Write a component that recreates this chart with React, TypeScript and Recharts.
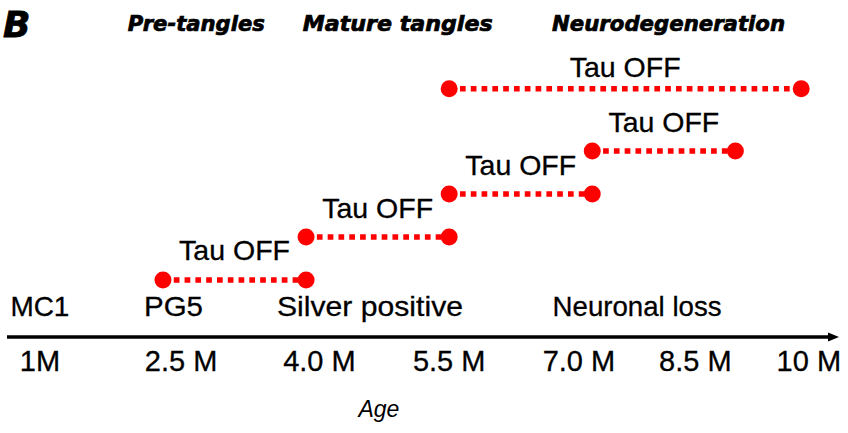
import React from 'react';
import { ComposedChart, Line, XAxis, YAxis, ReferenceDot } from 'recharts';

// ages on the axis and where each age label sits (axis units)
const ageLabels = ['1M', '2.5 M', '4.0 M', '5.5 M', '7.0 M', '8.5 M', '10 M'];
const ageTickAt = [1.21, 2.69, 4.14, 5.5, 6.86, 8.08, 9.27];

// Tau OFF windows: start / end age and the row they are drawn on
// (the 10 M end point is drawn squeezed against the arrow, at 9.19 on the axis)
const tauStart = [2.5, 4.0, 5.5, 7.0, 5.5];
const tauEnd = [4.0, 5.5, 7.0, 8.5, 9.19];
const tauRow = [1, 2, 3, 4, 5.45];
const tauText = ['Tau OFF', 'Tau OFF', 'Tau OFF', 'Tau OFF', 'Tau OFF'];

// markers written just above the axis
const markers = ['MC1', 'PG5', 'Silver positive', 'Neuronal loss'];
const markerAt = [1.21, 2.61, 4.67, 7.47];

// disease phases across the top
const phases = ['Pre-tangles', 'Mature tangles', 'Neurodegeneration'];
const phaseAt = [2.85, 4.96, 7.8];

const FONT = '"Liberation Sans", Arial, sans-serif';
const HEAD_FONT = '"DejaVu Sans", sans-serif';
const RED = '#ff0000';

const X_DOMAIN: [number, number] = [0.865, 9.513];
const Y_DOMAIN: [number, number] = [-0.326, 7.512];
const MARKER_Y = 0.163;
const PHASE_Y = 6.79;
const AGE_Y = -2.186;
const PANEL_Y = 6.65;

const phaseWidth = [137, 190, 233];
const markerWidth = [59, 59, 186, 169];
const tauGap = [20, 19, 19, 19, 12];

const segments = tauStart.map((s, i) => [
  { x: s, y: tauRow[i] },
  { x: tauEnd[i], y: tauRow[i] },
]);

const App = () => {
  return (
    <div style={{ position: 'absolute', left: 0, top: 0, background: '#fff' }}>
      <ComposedChart width={848} height={433} margin={{ top: 0, right: 16, bottom: 66, left: 7 }}>
        <XAxis
          dataKey="x"
          type="number"
          domain={X_DOMAIN}
          allowDataOverflow
          ticks={ageTickAt}
          interval={0}
          tickFormatter={(v: number) => ageLabels[ageTickAt.indexOf(v)]}
          axisLine={{ stroke: '#000', strokeWidth: 3.5 }}
          tickLine={false}
          tickSize={0}
          tickMargin={13}
          tick={{ fontSize: 29, fill: '#000', fontFamily: FONT, stroke: '#000', strokeWidth: 0.3 }}
          height={30}
        />
        <YAxis type="number" domain={Y_DOMAIN} allowDataOverflow hide />

        {segments.map((seg, i) => (
          <Line
            key={'seg' + i}
            data={seg}
            dataKey="y"
            stroke={RED}
            strokeWidth={5.5}
            strokeDasharray="5.7 5.1"
            dot={{ r: 8.5, fill: RED, stroke: 'none', strokeWidth: 0 }}
            activeDot={false}
            isAnimationActive={false}
          />
        ))}

        {tauStart.map((s, i) => (
          <ReferenceDot
            key={'tau' + i}
            x={(s + tauEnd[i]) / 2}
            y={tauRow[i]}
            ifOverflow="visible"
            shape={(p: any) => (
              <text
                x={p.cx}
                y={p.cy - tauGap[i]}
                textAnchor="middle"
                fontFamily={FONT}
                fontSize={28.5}
                fill="#000"
                stroke="#000"
                strokeWidth={0.3}
              >
                {tauText[i]}
              </text>
            )}
          />
        ))}

        {markers.map((m, i) => (
          <ReferenceDot
            key={'mk' + i}
            x={markerAt[i]}
            y={MARKER_Y}
            ifOverflow="visible"
            shape={(p: any) => (
              <text
                x={p.cx}
                y={p.cy}
                textAnchor="middle"
                fontFamily={FONT}
                fontSize={28.5}
                textLength={markerWidth[i]}
                lengthAdjust="spacingAndGlyphs"
                fill="#000"
                stroke="#000"
                strokeWidth={0.3}
              >
                {m}
              </text>
            )}
          />
        ))}

        {phases.map((ph, i) => (
          <ReferenceDot
            key={'ph' + i}
            x={phaseAt[i]}
            y={PHASE_Y}
            ifOverflow="visible"
            shape={(p: any) => (
              <text
                x={p.cx}
                y={p.cy}
                textAnchor="middle"
                fontFamily={HEAD_FONT}
                fontWeight="bold"
                fontStyle="italic"
                fontSize={21}
                textLength={phaseWidth[i]}
                lengthAdjust="spacingAndGlyphs"
                fill="#000"
                stroke="#000"
                strokeWidth={0.7}
              >
                {ph}
              </text>
            )}
          />
        ))}

        <ReferenceDot
          x={0.823}
          y={PANEL_Y}
          ifOverflow="visible"
          shape={(p: any) => (
            <text
              x={p.cx}
              y={p.cy}
              fontFamily={HEAD_FONT}
              fontWeight="bold"
              fontStyle="italic"
              fontSize={36}
              fill="#000"
              stroke="#000"
              strokeWidth={0.8}
            >
              B
            </text>
          )}
        />

        <ReferenceDot
          x={4.764}
          y={AGE_Y}
          ifOverflow="visible"
          shape={(p: any) => (
            <text x={p.cx} y={p.cy} textAnchor="middle" fontFamily={FONT} fontStyle="italic" fontSize={23} fill="#000">
              Age
            </text>
          )}
        />

        <ReferenceDot
          x={X_DOMAIN[1]}
          y={Y_DOMAIN[0]}
          ifOverflow="visible"
          shape={(p: any) => (
            <polygon
              points={`${p.cx - 4},${p.cy - 4.5} ${p.cx + 7},${p.cy} ${p.cx - 4},${p.cy + 4.5}`}
              fill="#000"
            />
          )}
        />
      </ComposedChart>
    </div>
  );
};

export default App;
